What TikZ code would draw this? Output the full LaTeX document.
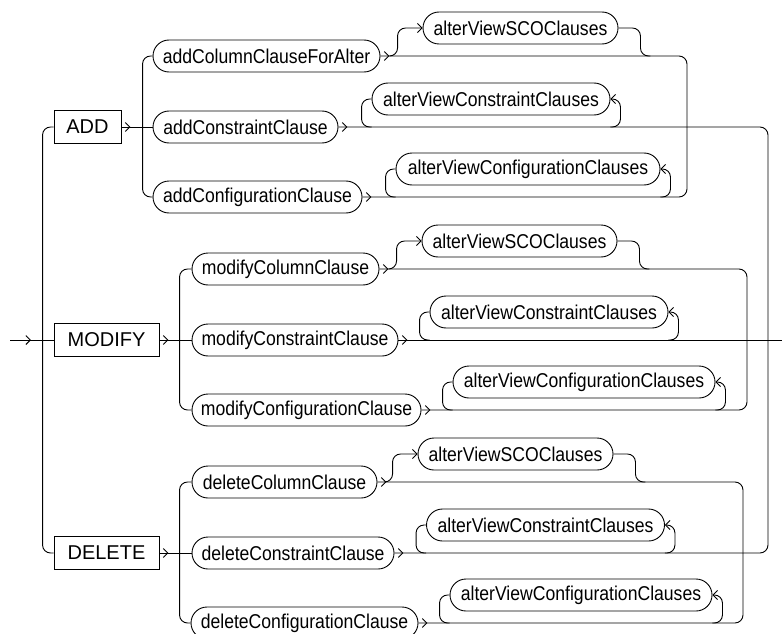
\documentclass[tikz,border=0pt]{standalone}
\usepackage{fontspec}
\setmainfont{Liberation Sans}
\newfontfamily\ntfont[FakeStretch=0.88]{Liberation Sans}
\usetikzlibrary{calc, arrows.meta}
\usetikzlibrary{decorations.markings}
\tikzset{%
  >={Straight Barb[length=4.5pt,width=9pt]},
  ->-/.style={decoration={markings, mark=at position #1 with {\arrow{>}}},
              postaction={decorate}},
  ->-/.default=9pt,
  kw/.style={draw, minimum height=33pt, inner sep=0pt,
             font=\fontsize{20}{24}\selectfont},
  nt/.style={draw, rounded corners=16pt, minimum height=32pt, inner sep=0pt,
             font=\ntfont\fontsize{20}{24}\selectfont},
  rail/.style={rounded corners=8pt},
}

\begin{document}
\begin{tikzpicture}[x=1pt, y=-1pt, line width=0.9pt]

    \useasboundingbox (0,0) rectangle (782,634);

    % keywords
    \node[kw, minimum width=67pt]  (ADD)    at (87.5,127)  {ADD};
    \node[kw, minimum width=105pt] (MODIFY) at (106.5,340) {MODIFY};
    \node[kw, minimum width=105pt] (DELETE) at (106.5,553) {DELETE};

    % ADD branch
    \node[nt, minimum width=227pt] (addcol)  at (266.5,56)  {addColumnClauseForAlter};
    \node[nt, minimum width=185pt] (addcon)  at (245.5,127) {addConstraintClause};
    \node[nt, minimum width=209pt] (addcfg)  at (257.5,197) {addConfigurationClause};
    \node[nt, minimum width=195pt] (addsco)  at (520.5,28)  {alterViewSCOClauses};
    \node[nt, minimum width=238pt] (addvcon) at (491,99)    {alterViewConstraintClauses};
    \node[nt, minimum width=264pt] (addvcfg) at (528,169)   {alterViewConfigurationClauses};

    % MODIFY branch
    \node[nt, minimum width=187pt] (modcol)  at (285.5,269) {modifyColumnClause};
    \node[nt, minimum width=206pt] (modcon)  at (295,340)   {modifyConstraintClause};
    \node[nt, minimum width=229pt] (modcfg)  at (306.5,410) {modifyConfigurationClause};
    \node[nt, minimum width=195pt] (modsco)  at (519.5,241) {alterViewSCOClauses};
    \node[nt, minimum width=238pt] (modvcon) at (549,312)   {alterViewConstraintClauses};
    \node[nt, minimum width=262pt] (modvcfg) at (584,382)   {alterViewConfigurationClauses};

    % DELETE branch
    \node[nt, minimum width=185pt] (delcol)  at (284.5,482) {deleteColumnClause};
    \node[nt, minimum width=202pt] (delcon)  at (293,553)   {deleteConstraintClause};
    \node[nt, minimum width=227pt] (delcfg)  at (304.5,623) {deleteConfigurationClause};
    \node[nt, minimum width=195pt] (delsco)  at (515.5,454) {alterViewSCOClauses};
    \node[nt, minimum width=238pt] (delvcon) at (545.5,525) {alterViewConstraintClauses};
    \node[nt, minimum width=262pt] (delvcfg) at (581,595)   {alterViewConfigurationClauses};

    % ends and merge points
    \coordinate (in)   at (10,340);
    \coordinate (out)  at (782,340);
    \coordinate (addm) at (687,127);
    \coordinate (modm) at (747,340);
    \coordinate (delm) at (743,553);
    \coordinate (allm) at (768,340);

    %entry and keyword choice
    \draw[->-=21pt] (in) -- (MODIFY.west);
    \draw[rail] (ADD.west) -- ++(-11,0) |- (DELETE.west);

    %keyword to clause choice
    \draw[->-] (ADD.east) -- (addcon.west);
    \draw[->-] (MODIFY.east) -- (modcon.west);
    \draw[->-] (DELETE.east) -- (delcon.west);
    \draw[rail] (addcol.west) -- ++(-10,0) |- (addcfg.west);
    \draw[rail] (modcol.west) -- ++(-12,0) |- (modcfg.west);
    \draw[rail] (delcol.west) -- ++(-12,0) |- (delcfg.west);

    %clause outputs
    \draw[->-, rail] (addcol.east) -| (addm);
    \draw[->-, rail] (addcfg.east) -| (addm);
    \draw[->-, rail] (addcon.east) -| (allm);
    \draw[->-, rail] (modcol.east) -| (modm);
    \draw[->-, rail] (modcfg.east) -| (modm);
    \draw[->-] (modcon.east) -- (out);
    \draw[->-, rail] (delcol.east) -| (delm);
    \draw[->-, rail] (delcfg.east) -| (delm);
    \draw[->-, rail] (delcon.east) -| (allm);

    % optional SCO clauses
    \foreach \s in {addsco, modsco, delsco} {
        \draw[->, rail] ($(\s.west)+(-33,28)$) -- ++(8,0) |- (\s.west);
        \draw[rail] (\s.east) -| ++(22,28) -- ++(10,0);
    }

    % repeated clauses
    \foreach \s in {addvcon, addvcfg, modvcon, modvcfg, delvcon, delvcfg} {
        \draw[rail] (\s.west) -- ++(-10,0) |- ++(10,28);
        \draw[->, rail] ($(\s.east)+(0,28)$) -- ++(10,0) |- (\s.east);
    }

\end{tikzpicture}
\end{document}
